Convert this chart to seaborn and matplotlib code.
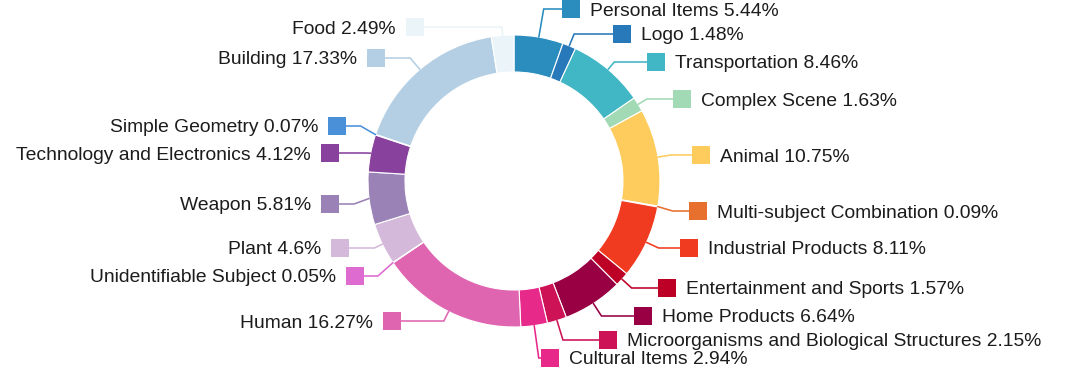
import numpy as np
import matplotlib
matplotlib.use("Agg")
import matplotlib.pyplot as plt
import seaborn as sns

# dados (sentido horario, a partir do topo)
categorias = [
    "Personal Items", "Logo", "Transportation", "Complex Scene", "Animal",
    "Multi-subject Combination", "Industrial Products", "Entertainment and Sports",
    "Home Products", "Microorganisms and Biological Structures", "Cultural Items",
    "Human", "Unidentifiable Subject", "Plant", "Weapon",
    "Technology and Electronics", "Simple Geometry", "Building", "Food",
]
percentuais = [5.44, 1.48, 8.46, 1.63, 10.75, 0.09, 8.11, 1.57, 6.64, 2.15, 2.94,
               16.27, 0.05, 4.6, 5.81, 4.12, 0.07, 17.33, 2.49]
cores = ["#2b8cbe", "#2879b9", "#41b6c4", "#a1dab4", "#fecc5c", "#e8702f", "#f03b20",
         "#bd0026", "#980043", "#ce1256", "#e7298a", "#df65b0", "#dd6bd0", "#d4b9da",
         "#9a82b6", "#88419d", "#4a90d9", "#b4cfe4", "#eaf4f9"]

# layout dos rotulos (pixels da imagem: centro do quadrado)
lado = ["R"] * 11 + ["L"] * 8
rot_x = [571, 622, 656, 682, 701, 698, 689, 667, 643, 608, 550,
         392, 355, 340, 330, 330, 337, 376, 415]
rot_y = [9, 34, 62, 99, 155, 211, 248, 288, 316, 340, 358,
         321, 276, 248, 204, 153, 126, 58, 27]

W, H = 1080, 382
CX, CY, R, LARG = 514, H - 181, 146, 37

sns.set_theme(style="white")
plt.rcParams["font.family"] = ["Liberation Sans", "DejaVu Sans"]

fig = plt.figure(figsize=(W / 100, H / 100), dpi=100)
ax = fig.add_axes([0, 0, 1, 1])

paleta = sns.color_palette(cores)
wedges, _ = ax.pie(percentuais, colors=paleta, startangle=90, counterclock=False,
                   center=(CX, CY), radius=R,
                   wedgeprops=dict(width=LARG, edgecolor="white", linewidth=0.8))

for w, nome, pct, cor, sx, sy, s in zip(wedges, categorias, percentuais, paleta,
                                          rot_x, rot_y, lado):
    ang = np.deg2rad((w.theta1 + w.theta2) / 2)
    ux, uy = np.cos(ang), np.sin(ang)
    px, py = CX + R * ux, CY + R * uy
    ly = H - sy
    t = (ly - py) / uy if abs(uy) > 1e-6 else 5
    t = min(max(t, 5), 15 / max(abs(ux), 1e-3))
    ex = px + ux * t
    borda = sx - 9 if s == "R" else sx + 9
    ax.plot([px, ex, borda], [py, ly, ly], color=cor, lw=1.15, zorder=3,
            solid_joinstyle="miter")
    ax.scatter([sx], [ly], marker="s", s=175, color=cor, linewidths=0, zorder=4)
    texto = f"{nome} {pct:g}%"
    if s == "R":
        ax.text(sx + 19, ly, texto, ha="left", va="center_baseline",
                fontsize=13.85, color="#1c1c1c")
    else:
        ax.text(sx - 19, ly, texto, ha="right", va="center_baseline",
                fontsize=13.85, color="#1c1c1c")

ax.set_xlim(0, W)
ax.set_ylim(0, H)
ax.set_aspect("auto")
ax.axis("off")

fig.savefig("out.png", dpi=100)
